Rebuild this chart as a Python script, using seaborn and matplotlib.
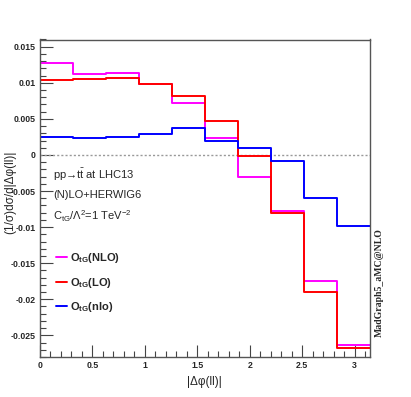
import numpy as np
import pandas as pd
import matplotlib
matplotlib.use("Agg")
import matplotlib.pyplot as plt
import seaborn as sns
from matplotlib.ticker import MultipleLocator

# bin edges in |dphi(ll)|, 10 bins over [0, pi]
edges = np.linspace(0, np.pi, 11)

nlo = [0.0128, 0.0112, 0.0114, 0.0098, 0.0072, 0.0023, -0.0031, -0.0077, -0.0174, -0.0263]
lo = [0.0104, 0.0105, 0.0106, 0.0098, 0.0082, 0.0047, -0.0001, -0.0080, -0.0190, -0.0268]
nlo_lin = [0.0025, 0.0024, 0.0025, 0.0029, 0.0037, 0.0019, 0.0010, -0.0008, -0.0060, -0.0099]

labels = [r"$\mathbf{O_{tG}}$(NLO)", r"$\mathbf{O_{tG}}$(LO)", r"$\mathbf{O_{tG}}$(nlo)"]
colors = ["#ff00ff", "#ff0000", "#0000ff"]

# step outline: repeat the last bin value at the right edge
df = pd.concat([
    pd.DataFrame({"x": edges, "y": list(vals) + [vals[-1]], "curve": lab})
    for vals, lab in zip([nlo, lo, nlo_lin], labels)
])

sns.set_style("white")
plt.rcParams["font.family"] = ["Liberation Sans", "DejaVu Sans"]
plt.rcParams["mathtext.fontset"] = "custom"
plt.rcParams["mathtext.rm"] = "Liberation Sans"
plt.rcParams["mathtext.it"] = "Liberation Sans:italic"
plt.rcParams["mathtext.bf"] = "Liberation Sans:bold"

fig = plt.figure(figsize=(4.11, 3.97), dpi=100)
ax = fig.add_axes([40 / 411, 40 / 397, 329.5 / 411, 317.5 / 397])

ax.axhline(0, color="#999999", linestyle=(0, (1.5, 1.5)), linewidth=1.0)

sns.lineplot(data=df, x="x", y="y", hue="curve", hue_order=labels, palette=colors,
             drawstyle="steps-post", estimator=None, sort=False, linewidth=1.4, ax=ax)

ax.set_xlim(0, np.pi)
ax.set_ylim(-0.028, 0.016)
ax.xaxis.set_minor_locator(MultipleLocator(0.1))
ax.yaxis.set_minor_locator(MultipleLocator(0.001))
ax.set_xticks([0, 0.5, 1, 1.5, 2, 2.5, 3])
ax.set_xticklabels(["0", "0.5", "1", "1.5", "2", "2.5", "3"])
ax.set_yticks([-0.025, -0.02, -0.015, -0.01, -0.005, 0, 0.005, 0.01, 0.015])
ax.set_yticklabels(["-0.025", "-0.02", "-0.015", "-0.01", "-0.005", "0", "0.005", "0.01", "0.015"])
ax.tick_params(which="both", direction="in", top=False, right=False, bottom=True, left=True,
               color="#444444", labelsize=6.3, pad=3)
ax.tick_params(which="major", length=9, width=0.8)
ax.tick_params(which="minor", length=4.5, width=0.8)
for t in ax.get_xticklabels() + ax.get_yticklabels():
    t.set_fontweight("bold")
for s in ax.spines.values():
    s.set_color("#555555")
    s.set_linewidth(1.0)

ax.set_xlabel("|\u0394\u03c6(ll)|", fontsize=8.5, labelpad=4)
ax.set_ylabel("(1/\u03c3)d\u03c3/d|\u0394\u03c6(ll)|", fontsize=8.5)
ax.yaxis.set_label_coords(-0.072, 0.52)

ax.text(0.04, 0.575, "pp\u2192t$\\bar{\\mathrm{t}}$ at LHC13", transform=ax.transAxes,
        fontsize=8, va="center")
ax.text(0.04, 0.51, "(N)LO+HERWIG6", transform=ax.transAxes, fontsize=8, va="center")
ax.text(0.04, 0.445, r"C$_{\mathrm{tG}}$/$\Lambda^{2}$=1 TeV$^{-2}$", transform=ax.transAxes,
        fontsize=8, va="center")

leg = ax.legend(loc="upper left", bbox_to_anchor=(0.018, 0.365), frameon=False,
                handlelength=1.0, handletextpad=0.3, labelspacing=0.95,
                prop={"weight": "bold", "size": 8})

fig.text(379 / 411, 1 - 337 / 397, "MadGraph5_aMC@NLO", rotation=90, ha="center", va="bottom",
         fontsize=7, fontweight="bold", family="Liberation Serif")

fig.savefig("out.png", dpi=100)
